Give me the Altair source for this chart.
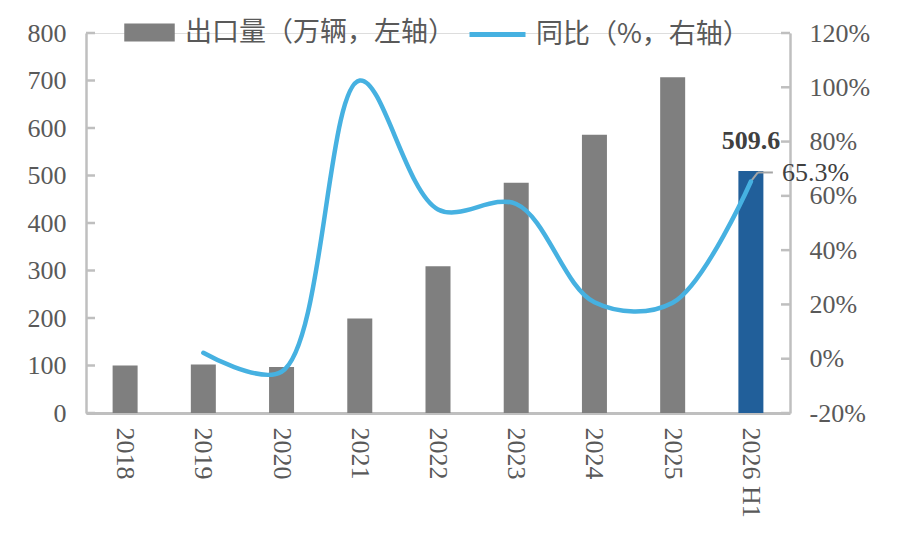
import altair as alt
import pandas as pd

years = ["2018", "2019", "2020", "2021", "2022", "2023", "2024", "2025", "2026 H1"]
exports = [100, 102, 97, 199, 309, 485, 586, 707, 509.6]
yoy = [None, 2.2, -4.8, 102.5, 55.0, 57.0, 20.8, 20.6, 65.3]
left_ticks = [0, 100, 200, 300, 400, 500, 600, 700, 800]
right_ticks = [-20, 0, 20, 40, 60, 80, 100, 120]
bar_name = "出口量（万辆，左轴）"
line_name = "同比（%，右轴）"
bar_kind = [bar_name] * 8 + ["H1"]

SERIF = "Liberation Serif"
CJK = "Noto Sans CJK SC"
AX = "#BFBFBF"
TXT = "#595959"
FS = 26
LFS = 27

bars_df = pd.DataFrame({"year": years, "v": exports, "kind": bar_kind})
line_df = pd.DataFrame({"year": years, "y": yoy, "s": [line_name] * len(years)}).dropna()
last_line = line_df[line_df["year"] == "2026 H1"]
last_bar = bars_df[bars_df["year"] == "2026 H1"]
lt_df = pd.DataFrame({"v": left_ticks})
rt_df = pd.DataFrame({"y": right_ticks})

x_axis = alt.Axis(title=None, labelAngle=90, ticks=False, domainColor=AX, domainWidth=3,
                  labelFont=SERIF, labelFontSize=FS, labelColor=TXT, labelPadding=14)
x_enc = alt.X("year:N", sort=years, scale=alt.Scale(paddingInner=0, paddingOuter=0), axis=x_axis)

ly_scale = alt.Scale(domain=[0, 800], nice=False)
ry_scale = alt.Scale(domain=[-20, 120], nice=False)

bars = alt.Chart(bars_df).mark_bar(size=25).encode(
    x=x_enc,
    y=alt.Y("v:Q", scale=ly_scale,
            axis=alt.Axis(title=None, orient="left", values=left_ticks, ticks=False, grid=False,
                          domainColor=AX, domainWidth=2.5, labelFont=SERIF, labelFontSize=FS,
                          labelColor=TXT, labelPadding=20)),
    color=alt.Color("kind:N", scale=alt.Scale(domain=[bar_name, "H1"], range=["#7F7F7F", "#215F9A"]),
                    legend=alt.Legend(title=None, values=[bar_name], orient="none", legendX=38, legendY=-26,
                                      symbolType="M-1,-0.36H1V0.36H-1Z", symbolSize=2550,
                                      symbolStrokeWidth=0, labelFont=CJK, labelFontSize=LFS,
                                      labelColor=TXT, labelOffset=10, padding=0, labelLimit=0)),
)
bar_label = alt.Chart(last_bar).mark_text(font=SERIF, fontSize=FS, fontWeight="bold", color="#404040",
                                          baseline="alphabetic", dy=-22).encode(
    x=x_enc, y=alt.Y("v:Q", scale=ly_scale), text=alt.Text("v:Q", format=".1f"))
lticks = alt.Chart(lt_df).mark_rule(color=AX, strokeWidth=2.5).encode(
    x=alt.value(0), x2=alt.value(9), y=alt.Y("v:Q", scale=ly_scale))
left_group = alt.layer(bars, bar_label, lticks)

line = alt.Chart(line_df).mark_line(strokeWidth=4.5, interpolate="catmull-rom", strokeCap="round").encode(
    x=x_enc,
    y=alt.Y("y:Q", scale=ry_scale,
            axis=alt.Axis(title=None, orient="right", values=right_ticks, ticks=False, grid=False,
                          domainColor=AX, domainWidth=2.5, labelFont=SERIF, labelFontSize=FS,
                          labelColor=TXT, labelPadding=19, labelExpr="datum.value + '%'")),
    stroke=alt.Stroke("s:N", scale=alt.Scale(domain=[line_name], range=["#46B1E1"]),
                      legend=alt.Legend(title=None, orient="none", legendX=381, legendY=-29,
                                        symbolType="stroke", symbolSize=3136, symbolStrokeWidth=5,
                                        labelFont=CJK, labelFontSize=LFS, labelColor=TXT,
                                        labelOffset=8, padding=0, labelLimit=0)),
)
lead1 = alt.Chart(last_line).mark_rule(color="#A5A5A5", strokeWidth=2, x2Offset=7, y2Offset=-9).encode(
    x=x_enc, x2="year:N", y=alt.Y("y:Q", scale=ry_scale), y2="y:Q")
lead2 = alt.Chart(last_line).mark_rule(color="#A5A5A5", strokeWidth=2, xOffset=7, x2Offset=22,
                                       yOffset=-9, y2Offset=-9).encode(
    x=x_enc, x2="year:N", y=alt.Y("y:Q", scale=ry_scale), y2="y:Q")
rticks = alt.Chart(rt_df).mark_rule(color=AX, strokeWidth=2.5).encode(
    x=alt.value(695), x2=alt.value(704), y=alt.Y("y:Q", scale=ry_scale))
pct_label = alt.Chart(last_line).transform_calculate(t="format(datum.y, '.1f') + '%'").mark_text(
    font=SERIF, fontSize=FS, color="#404040", align="left", baseline="alphabetic", dx=31, dy=0).encode(
    x=x_enc, y=alt.Y("y:Q", scale=ry_scale), text="t:N")
right_group = alt.layer(lead1, lead2, line, pct_label, rticks)

chart = alt.layer(left_group, right_group).resolve_scale(
    y="independent", color="independent", stroke="independent"
).properties(
    width=704, height=380,
    padding={"left": 78, "top": 25, "right": 99, "bottom": 115},
    autosize=alt.AutoSizeParams(type="none"),
).configure_view(stroke=None).configure(background="white")

chart.save("out.html", embed_options={"renderer": "svg", "actions": False})
